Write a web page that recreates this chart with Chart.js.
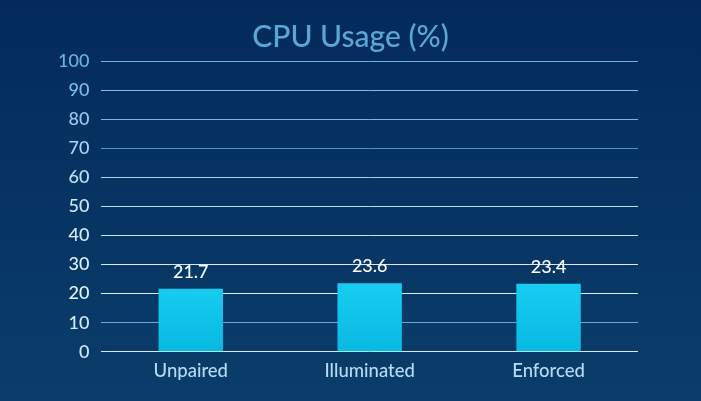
<!DOCTYPE html>
<html>
<head>
<meta charset="utf-8">
<script src="https://cdn.jsdelivr.net/npm/chart.js@4"></script>
<style>
  html, body { margin: 0; padding: 0; }
  body {
    width: 701px; height: 401px; overflow: hidden;
    background: linear-gradient(180deg, #032a5b 0%, #073563 55%, #0a3d6b 100%);
  }
  #wrap { width: 701px; height: 401px; }
</style>
</head>
<body>
<div id="wrap"><canvas id="cpuChart"></canvas></div>
<script>
const chartTitle = 'CPU Usage (%)';
const categories = ['Unpaired', 'Illuminated', 'Enforced'];
const cpuValues = [21.7, 23.6, 23.4];
const yTicks = [0, 10, 20, 30, 40, 50, 60, 70, 80, 90, 100];

const tickColors = {
  100: '#69b3e3', 90: '#7dbde6', 80: '#95cbee', 70: '#a8d6f2', 60: '#bde0f5',
  50: '#cde8f7', 40: '#d6ecf8', 30: '#dff0fa', 20: '#e4f3fb', 10: '#d2eaf7', 0: '#cfe8f6'
};
const gridColors = {
  100: '#6fb0dc', 90: '#86bfe4', 80: '#7ab6e0', 70: '#4f95c6', 60: '#a9d2ee',
  50: '#bddcf2', 40: '#c9e3f4', 30: '#d5eaf7', 20: '#d8ecf8', 10: '#6aa9d6', 0: '#d6ebf8'
};

// title centred on the whole canvas, not on the padded box
const centredTitle = {
  id: 'centredTitle',
  afterDraw(chart) {
    const ctx = chart.ctx;
    ctx.save();
    ctx.fillStyle = '#5aa7d6';
    ctx.font = '500 30px Lato';
    ctx.textAlign = 'center';
    ctx.textBaseline = 'middle';
    ctx.fillText(chartTitle, chart.width / 2, 37);
    ctx.restore();
  }
};

const valueLabels = {
  id: 'valueLabels',
  afterDatasetsDraw(chart) {
    const ctx = chart.ctx;
    const meta = chart.getDatasetMeta(0);
    ctx.save();
    ctx.fillStyle = '#ffffff';
    ctx.font = '500 18px Lato';
    ctx.textAlign = 'center';
    ctx.textBaseline = 'bottom';
    meta.data.forEach((bar, i) => {
      ctx.fillText(cpuValues[i].toFixed(1), bar.x, bar.y - 8);
    });
    ctx.restore();
  }
};

const el = document.getElementById('cpuChart');
new Chart(el, {
  type: 'bar',
  data: {
    labels: categories,
    datasets: [{
      label: chartTitle,
      data: cpuValues,
      backgroundColor: (c) => {
        const area = c.chart.chartArea;
        if (!area) return '#14c8ef';
        const g = c.chart.ctx.createLinearGradient(0, area.top + 200, 0, area.bottom);
        g.addColorStop(0, '#1ed3f6');
        g.addColorStop(1, '#08b9e2');
        return g;
      },
      borderWidth: 0,
      barPercentage: 0.36,
      categoryPercentage: 1
    }]
  },
  options: {
    responsive: true,
    maintainAspectRatio: false,
    animation: false,
    layout: { padding: { left: 46, right: 63, top: 61, bottom: 11 } },
    plugins: {
      legend: { display: false },
      tooltip: { enabled: false },
      title: { display: false }
    },
    scales: {
      x: {
        grid: { display: false, drawTicks: false },
        border: { display: false },
        ticks: {
          color: '#b6dbf2',
          padding: 8,
          font: { family: 'Lato', size: 18.5, weight: 500 }
        }
      },
      y: {
        min: 0,
        max: 100,
        afterBuildTicks: (axis) => { axis.ticks = yTicks.map(v => ({ value: v })); },
        border: { display: false },
        grid: {
          drawTicks: false,
          color: (c) => gridColors[c.tick.value] || '#cfe8f6',
          lineWidth: 1
        },
        ticks: {
          padding: 12,
          color: (c) => tickColors[c.tick.value] || '#d6ecf8',
          font: { family: 'Lato', size: 18, weight: 500 }
        }
      }
    }
  },
  plugins: [valueLabels, centredTitle]
});
</script>
</body>
</html>
